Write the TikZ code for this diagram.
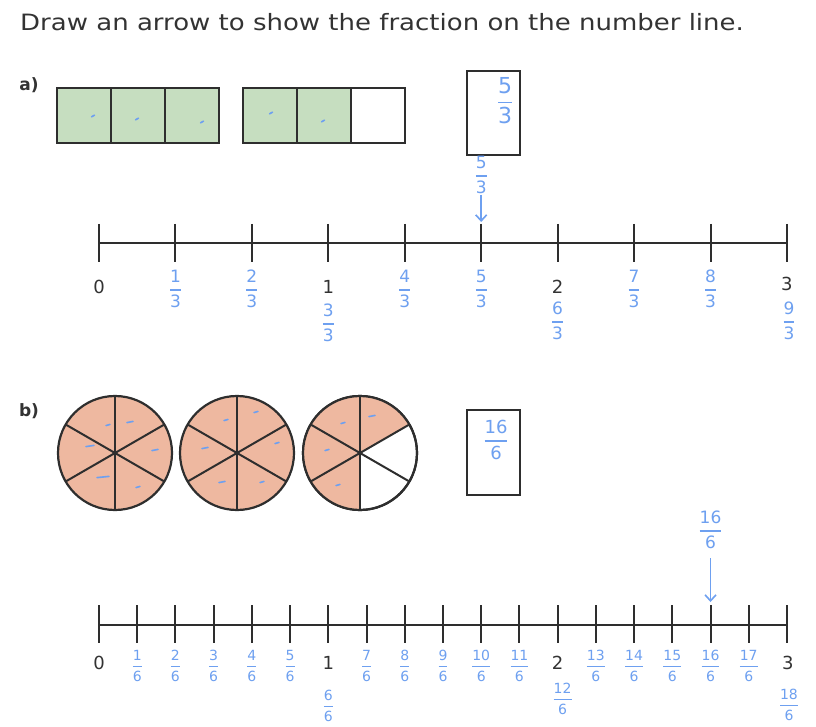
\documentclass[tikz,border=0pt]{standalone}
\usepackage{amsmath}
\usepackage{fontspec}
\usetikzlibrary{calc,arrows.meta}
\setmainfont{DejaVu Sans}
\newfontfamily\handfont{DejaVu Sans}
\definecolor{inkc}{HTML}{2E2E2E}
\definecolor{textc}{HTML}{333333}
\definecolor{handc}{HTML}{6EA0F0}
\definecolor{greenc}{HTML}{C6DEC0}
\definecolor{salmonc}{HTML}{EEB8A0}
\newcommand{\hfr}[2]{$\genfrac{}{}{1.4pt}{0}{\mbox{#1}}{\mbox{#2}}$}
\begin{document}
\begin{tikzpicture}[x=1pt,y=-1pt,
  ink/.style={draw=inkc, line width=2.2pt},
  tickline/.style={draw=inkc, line width=2pt},
  cellbox/.style={draw=inkc, line width=2.4pt, fill=greenc},
  emptycell/.style={draw=inkc, line width=2.4pt, fill=white},
  answerbox/.style={draw=inkc, line width=2.2pt, fill=white},
  numlabel/.style={font=\fontsize{18}{20}\selectfont, text=textc, inner sep=0pt},
  handA/.style={font=\handfont\fontsize{17}{18}\selectfont, text=handc, inner sep=0pt},
  handB/.style={font=\handfont\fontsize{14}{15}\selectfont, text=handc, inner sep=0pt},
  handarrow/.style={draw=handc, line width=1.6pt, -{Straight Barb[length=6pt,width=11pt]}},
  pencil/.style={draw=handc, line width=1.6pt, line cap=round},
  partlabel/.style={font=\bfseries\fontsize{17}{20}\selectfont, text=textc, inner sep=0pt}]
\useasboundingbox (0,0) rectangle (816,727);
\fill[white] (0,0) rectangle (816,727);

% title
\node[anchor=west, font=\fontsize{22.5}{26}\selectfont, text=textc, inner sep=0pt, xscale=1.155] (title) at (20,22)
  {Draw an arrow to show the fraction on the number line.};

% ---------------- part a ----------------
\node[partlabel] (pa) at (29,85) {a)};
\foreach \i/\x in {1/57,2/111,3/165,4/243,5/297} {
  \draw[cellbox] (\x,88) rectangle ++(54,55);
}
\draw[emptycell] (351,88) rectangle (405,143);
\foreach \px/\py in {93/116,137/119,202/122,271/113,323/121} {
  \draw[pencil] (\px-1.5,\py+0.8) -- (\px+1.5,\py-0.8);
}
\draw[answerbox] (467,71) rectangle (520,155);
\node[handA, font=\handfont\fontsize{22}{24}\selectfont] (qa) at (505,101) {\hfr{5}{3}};

% number line a
\foreach \i in {0,...,9} \coordinate (ta\i) at ({99+\i*76.44},243);
\draw[ink] (ta0) -- (ta9);
\foreach \i in {0,...,9} \draw[tickline] ([yshift=19pt]ta\i) -- ([yshift=-19pt]ta\i);

\node[numlabel] (la0) at (99,287) {0};
\node[numlabel] (la1) at ($(ta3)+(0,44)$) {1};
\node[numlabel] (la2) at ($(ta6)+(0,44)$) {2};
\node[numlabel] (la3) at ($(ta9)+(0,41)$) {3};
\foreach \i in {1,2,4,5,7,8} {
  \node[handA] (fa\i) at ($(ta\i)+(0,46)$) {\hfr{\i}{3}};
}
\node[handA] (fa3) at ($(ta3)+(0,80)$) {\hfr{3}{3}};
\node[handA] (fa6) at ($(ta6)+(0,78)$) {\hfr{6}{3}};
\node[handA] (fa9) at ($(ta9)+(2,78)$) {\hfr{9}{3}};

% arrow a
\node[handA] (arra) at ($(ta5)+(0,-68)$) {\hfr{5}{3}};
\draw[handarrow] ([yshift=-1pt]arra.south) -- ([yshift=21pt]ta5);

% ---------------- part b ----------------
\node[partlabel] (pb) at (29,411) {b)};
\def\R{57}
\foreach \cx in {115,237} {
  \draw[fill=salmonc, draw=inkc, line width=2.2pt] (\cx,453) circle[radius=\R];
}
\draw[fill=white, draw=inkc, line width=2.2pt] (360,453) circle[radius=\R];
\fill[salmonc] (360,453) -- ++(-30:\R) arc[start angle=-30, end angle=-270, radius=\R] -- cycle;
\draw[inkc, line width=2.2pt] (360,453) circle[radius=\R];
\foreach \cx in {115,237,360} {
  \draw[inkc, line width=2pt] (\cx,453) ++(90:\R) -- ++(0,{-2*\R});
  \draw[inkc, line width=2pt] ($(\cx,453)+(30:\R)$) -- ($(\cx,453)+(210:\R)$);
  \draw[inkc, line width=2pt] ($(\cx,453)+(-30:\R)$) -- ($(\cx,453)+(150:\R)$);
  \fill[inkc] (\cx,453) circle[radius=2.5];
}
\foreach \px/\py/\l in {108/425/2,130/422/3,90/446/4,155/450/3,103/477/6,138/487/2,
                        226/420/2,256/412/2,205/448/3,277/443/2,222/482/3,262/482/2,
                        343/423/2,372/416/3,327/450/2,338/485/2} {
  \draw[pencil] (\px-\l,\py+0.6) -- (\px+\l,\py-0.6);
}
\draw[answerbox] (467,410) rectangle (520,495);
\node[handA, font=\handfont\fontsize{18}{20}\selectfont] (qb) at (496,440) {\hfr{16}{6}};

% number line b
\foreach \i in {0,...,18} \coordinate (tb\i) at ({99+\i*38.22},625);
\draw[ink] (tb0) -- (tb18);
\foreach \i in {0,...,18} \draw[tickline] ([yshift=20pt]tb\i) -- ([yshift=-18pt]tb\i);

\node[numlabel] (lb0) at (99,663) {0};
\node[numlabel] (lb1) at ($(tb6)+(0,38)$) {1};
\node[numlabel] (lb2) at ($(tb12)+(0,38)$) {2};
\node[numlabel] (lb3) at ($(tb18)+(1,38)$) {3};
\foreach \i in {1,2,3,4,5,7,8,9,10,11,13,14,15,16,17} {
  \node[handB] (fb\i) at ($(tb\i)+(0,41)$) {\hfr{\i}{6}};
}
\node[handB] (fb6) at ($(tb6)+(0,81)$) {\hfr{6}{6}};
\node[handB] (fb12) at ($(tb12)+(5,74)$) {\hfr{12}{6}};
\node[handB] (fb18) at ($(tb18)+(2,80)$) {\hfr{18}{6}};

% arrow b
\node[handA, font=\handfont\fontsize{17}{18}\selectfont] (arrb) at ($(tb16)+(0,-95)$) {\hfr{16}{6}};
\draw[handarrow] ([yshift=-9pt]arrb.south) -- ([yshift=23pt]tb16);
\end{tikzpicture}
\end{document}
